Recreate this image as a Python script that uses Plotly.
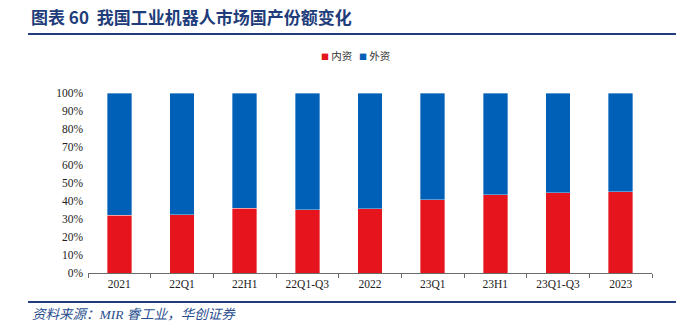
import plotly.graph_objects as go

# Share of the Chinese industrial-robot market, domestic vs. foreign brands (%)
periods = ["2021", "22Q1", "22H1", "22Q1-Q3", "2022", "23Q1", "23H1", "23Q1-Q3", "2023"]
domestic = [32.0, 32.4, 36.1, 35.2, 35.6, 40.6, 43.4, 44.5, 45.1]
foreign = [round(100 - v, 1) for v in domestic]
y_ticks = [0, 10, 20, 30, 40, 50, 60, 70, 80, 90, 100]
series_names = ["内资", "外资"]

RED = "#E5141D"
BLUE = "#005FB6"
NAVY = "#1F3D7A"
SERIF = "Liberation Serif, Times New Roman, serif"
CJK = "Noto Sans CJK SC"

W, H = 678, 331
L, R, T, B = 88, 26, 93, 58
plot_w = W - L - R
plot_h = H - T - B


def px_x(px):
    return (px - L) / plot_w


def px_y(py):
    return (H - B - py) / plot_h


fig = go.Figure()
for name, vals, color in zip(series_names, [domestic, foreign], [RED, BLUE]):
    fig.add_trace(go.Bar(
        x=periods, y=vals, name=name,
        marker=dict(color=color, line=dict(color="rgba(255,255,255,0.6)", width=0.6)),
    ))

fig.update_layout(
    width=W, height=H,
    margin=dict(l=L, r=R, t=T, b=B),
    barmode="stack",
    bargap=0.61,
    plot_bgcolor="white",
    paper_bgcolor="white",
    showlegend=False,
    xaxis=dict(
        type="category",
        showline=True, linecolor="#6b6b6b", linewidth=1,
        ticks="outside", tickson="boundaries", ticklen=4, tickcolor="#6b6b6b",
        tickfont=dict(family=SERIF, size=11.5, color="#222222"),
        showgrid=False, zeroline=False,
    ),
    yaxis=dict(
        range=[0, 100],
        tickvals=y_ticks,
        ticktext=[f"{v}%" for v in y_ticks],
        tickfont=dict(family=SERIF, size=11.5, color="#222222"),
        showline=False, showgrid=False, zeroline=False,
        ticks="", ticklabelstandoff=4,
    ),
)

# Compact legend: small colour square followed by the series name
legend_pos = [319, 357]
for name, color, lx in zip(series_names, [RED, BLUE], legend_pos):
    fig.add_annotation(
        xref="paper", yref="paper", x=px_x(lx), y=px_y(55),
        xanchor="left", yanchor="middle", showarrow=False,
        text=f"<span style='color:{color};font-size:8px'>■</span> {name}",
        font=dict(family=CJK, size=10.5, color="#333333"),
    )

# Header and footer rules
fig.add_shape(type="line", xref="paper", yref="paper",
              x0=px_x(28), x1=px_x(676), y0=px_y(34), y1=px_y(34),
              line=dict(color=NAVY, width=2))
fig.add_shape(type="line", xref="paper", yref="paper",
              x0=px_x(28), x1=px_x(676), y0=px_y(302), y1=px_y(302),
              line=dict(color=NAVY, width=2))

fig.add_annotation(
    xref="paper", yref="paper", x=px_x(29), y=px_y(17),
    xanchor="left", yanchor="middle", showarrow=False,
    text="<b>图表 60  我国工业机器人市场国产份额变化</b>",
    font=dict(family=CJK, size=17, color=NAVY),
)
fig.add_annotation(
    xref="paper", yref="paper", x=px_x(30), y=px_y(314),
    xanchor="left", yanchor="middle", showarrow=False,
    text="<i>资料来源：MIR 睿工业，华创证券</i>",
    font=dict(family=SERIF + ", " + CJK, size=13.5, color="#2A4F90"),
)

fig.write_html("out.html")
